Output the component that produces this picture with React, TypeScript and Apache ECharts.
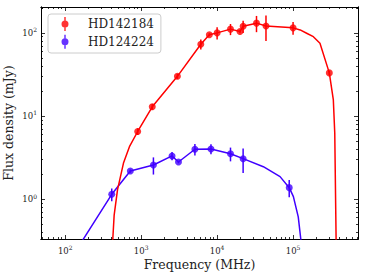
import React, { useEffect, useRef } from "react";
import * as echarts from "echarts";

// ---- data ----
const redFreq = [900, 1400, 3000, 6100, 7900, 10000, 15000, 20000, 22000, 33000, 44000, 100000, 300000];
const redFlux = [6.5, 12.9, 30, 73, 95, 100, 111, 104, 120, 131, 121, 115, 33];
const redErr = [0.6, 1.0, 2, 10, 4, 17, 17, 5, 20, 29, 41, 20, 2];

const blueFreq = [410, 720, 1450, 2550, 3100, 5100, 8300, 15000, 22000, 89000];
const blueFlux = [1.14, 2.17, 2.57, 3.3, 2.79, 3.97, 4.0, 3.5, 3.06, 1.37];
const blueErr = [0.2, 0.1, 0.6, 0.38, 0.1, 0.63, 0.55, 0.66, 1.0, 0.32];

const redCurveFreq = [416, 441, 488, 585, 701, 900, 1400, 3000, 6100, 7900, 10000, 15000, 20000, 22000, 33000, 44000, 100000, 124000, 151000, 185000, 226000, 300000, 339000, 354000, 370000];
const redCurveFlux = [0.25, 0.64, 1.29, 2.71, 4.26, 6.5, 12.9, 30, 73, 95, 100, 111, 104, 120, 131, 121, 115, 108.6, 99, 90, 75, 33, 15.6, 6.2, 0.25];

const blueCurveFreq = [155, 410, 720, 1450, 2550, 3100, 5100, 8300, 15000, 22000, 40600, 67400, 89000, 101000, 117000, 129000];
const blueCurveFlux = [0.28, 1.14, 2.17, 2.57, 3.3, 2.79, 3.97, 4.0, 3.5, 3.06, 2.45, 1.86, 1.37, 1.07, 0.61, 0.28];

const xMajorTicks = [100, 1000, 10000, 100000];
const yMajorTicks = [1, 10, 100];
const seriesNames = ["HD142184", "HD124224"];
const xTitle = "Frequency (MHz)";
const yTitle = "Flux density (mJy)";

// ---- styling ----
const RED = "#ff0000";
const BLUE = "#4000ff";
const FONT = "DejaVu Serif";
const X_MIN = 48;
const X_MAX = 716000;
const Y_MIN = 0.33;
const Y_MAX = 205;

function minorTicks(lo: number, hi: number): number[] {
  const out: number[] = [];
  for (let e = Math.floor(Math.log10(lo)); e <= Math.ceil(Math.log10(hi)); e++) {
    for (let k = 2; k <= 9; k++) {
      const v = k * Math.pow(10, e);
      if (v >= lo && v <= hi) out.push(v);
    }
  }
  return out;
}

const ICON =
  "path://M3.15,0H4.85V16H3.15Z M0,8a4,4 0 1,1 8,0a4,4 0 1,1 -8,0Z";

const supFormatter = (v: number) => `{b|10}{s|${Math.round(Math.log10(v))}}`;
const supRich = {
  b: { fontFamily: FONT, fontSize: 8.5, color: "#222", lineHeight: 12 },
  s: { fontFamily: FONT, fontSize: 6, color: "#222", lineHeight: 5, verticalAlign: "top" },
};

function makeAxis(
  kind: "x" | "y",
  position: string,
  major: boolean,
  showLabel: boolean,
  extra: any = {}
) {
  const isX = kind === "x";
  const ticks = major
    ? isX ? xMajorTicks : yMajorTicks
    : isX ? minorTicks(X_MIN, X_MAX) : minorTicks(Y_MIN, Y_MAX);
  return {
    type: "log",
    logBase: 10,
    gridIndex: 0,
    position,
    min: isX ? X_MIN : Y_MIN,
    max: isX ? X_MAX : Y_MAX,
    axisLine: { show: true, onZero: false, lineStyle: { color: "#000", width: 1 } },
    axisTick: {
      show: true,
      inside: true,
      length: major ? 4 : 2,
      customValues: ticks,
      lineStyle: { color: "#000", width: 0.8 },
    },
    axisLabel: showLabel
      ? {
          show: true,
          customValues: ticks,
          formatter: supFormatter,
          rich: supRich,
          margin: isX ? 5.5 : 4,
        }
      : { show: false },
    splitLine: { show: false },
    minorTick: { show: false },
    ...extra,
  };
}

function errData(f: number[], v: number[], e: number[]) {
  return f.map((x, i) => [x, v[i], v[i] - e[i], v[i] + e[i]]);
}

function errSeries(name: string, color: string, data: number[][]) {
  return {
    type: "custom",
    name,
    xAxisIndex: 0,
    yAxisIndex: 0,
    silent: true,
    z: 3,
    encode: { x: 0, y: [1, 2, 3] },
    data,
    renderItem: (_p: any, api: any) => {
      const x = api.value(0);
      const p1 = api.coord([x, api.value(2)]);
      const p2 = api.coord([x, api.value(3)]);
      return {
        type: "line",
        shape: { x1: p1[0], y1: p1[1], x2: p2[0], y2: p2[1] },
        style: { stroke: color, lineWidth: 1.5 },
      };
    },
  };
}

export default function App() {
  const ref = useRef<HTMLDivElement>(null);
  useEffect(() => {
    if (!ref.current) return;
    const chart = echarts.init(ref.current, undefined, { renderer: "svg" });
    const option: any = {
      animation: false,
      backgroundColor: "#fff",
      grid: { left: 41, right: 7, top: 7, bottom: 35, containLabel: false, outerBoundsMode: "none" },
      legend: {
        orient: "vertical",
        left: 48,
        top: 14,
        padding: [3, 7, 4.3, 13.5],
        itemWidth: 7,
        itemHeight: 14,
        itemGap: 3.7,
        backgroundColor: "#fff",
        borderColor: "#cccccc",
        borderWidth: 1,
        borderRadius: 3,
        data: seriesNames.map((n) => ({ name: n, icon: ICON })),
        formatter: (n: string) => `{sp|}${n}`,
        textStyle: {
          fontFamily: FONT,
          fontSize: 12,
          color: "#222",
          rich: { sp: { width: 14.5 } },
        },
      },
      xAxis: [
        makeAxis("x", "bottom", true, true, {
          name: xTitle,
          nameLocation: "middle",
          nameGap: 19,
          nameMoveOverlap: false,
          nameTextStyle: { fontFamily: FONT, fontSize: 12.5, color: "#222" },
        }),
        makeAxis("x", "bottom", false, false),
        makeAxis("x", "top", true, false),
        makeAxis("x", "top", false, false),
      ],
      yAxis: [
        makeAxis("y", "left", true, true, {
          name: yTitle,
          nameLocation: "middle",
          nameGap: 26,
          nameMoveOverlap: false,
          nameTextStyle: { fontFamily: FONT, fontSize: 12.5, lineHeight: 13, color: "#222" },
        }),
        makeAxis("y", "left", false, false),
        makeAxis("y", "right", true, false),
        makeAxis("y", "right", false, false),
      ],
      series: [
        {
          type: "line",
          name: "HD124224 model",
          xAxisIndex: 0,
          yAxisIndex: 0,
          data: blueCurveFreq.map((f, i) => [f, blueCurveFlux[i]]),
          showSymbol: false,
          symbol: "none",
          clip: true,
          silent: true,
          lineStyle: { color: BLUE, width: 1.5 },
          z: 2,
        },
        {
          type: "line",
          name: "HD142184 model",
          xAxisIndex: 0,
          yAxisIndex: 0,
          data: redCurveFreq.map((f, i) => [f, redCurveFlux[i]]),
          showSymbol: false,
          symbol: "none",
          clip: true,
          silent: true,
          lineStyle: { color: RED, width: 1.5 },
          z: 2,
        },
        errSeries("HD142184 err", RED, errData(redFreq, redFlux, redErr)),
        errSeries("HD124224 err", BLUE, errData(blueFreq, blueFlux, blueErr)),
        {
          type: "scatter",
          name: seriesNames[0],
          xAxisIndex: 0,
          yAxisIndex: 0,
          data: redFreq.map((f, i) => [f, redFlux[i]]),
          symbol: "circle",
          symbolSize: 7,
          itemStyle: { color: RED },
          z: 4,
        },
        {
          type: "scatter",
          name: seriesNames[1],
          xAxisIndex: 0,
          yAxisIndex: 0,
          data: blueFreq.map((f, i) => [f, blueFlux[i]]),
          symbol: "circle",
          symbolSize: 7,
          itemStyle: { color: BLUE },
          z: 4,
        },
      ],
    };
    chart.setOption(option);
    return () => chart.dispose();
  }, []);
  return (
    <div
      ref={ref}
      style={{ position: "absolute", left: 0, top: 0, width: 365, height: 274 }}
    />
  );
}
